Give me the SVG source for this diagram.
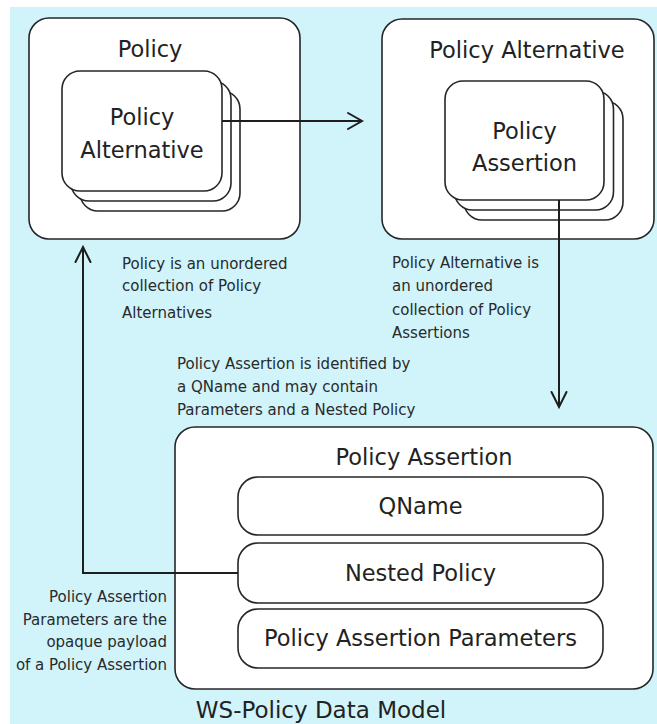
<svg xmlns="http://www.w3.org/2000/svg" width="657" height="724" viewBox="0 0 657 724">
  <defs>
    <style>
      .box { fill: #ffffff; stroke: #262626; stroke-width: 1.6; }
      .card { fill: #ffffff; stroke: #262626; stroke-width: 1.6; }
      .conn { fill: none; stroke: #1e1e1e; stroke-width: 2; }
      .head { fill: none; stroke: #1e1e1e; stroke-width: 2; stroke-linecap: round; stroke-linejoin: miter; }
      .title { font-family: "DejaVu Sans", Verdana, sans-serif; font-size: 22.5px; fill: #222; text-anchor: middle; }
      .note { font-family: "DejaVu Sans", Verdana, sans-serif; font-size: 15px; fill: #2a2a2a; }
    </style>
  </defs>

  <!-- page background -->
  <rect x="0" y="0" width="657" height="724" fill="#ffffff"/>
  <rect x="10" y="7" width="647" height="717" fill="#d0f4fa"/>

  <!-- Policy container with stacked alternatives -->
  <g id="policy">
    <rect class="box" x="29" y="18" width="271" height="221" rx="20"/>
    <text class="title" x="150" y="57">Policy</text>
    <rect class="card" x="80" y="91" width="160" height="120" rx="18"/>
    <rect class="card" x="71" y="81" width="160" height="120" rx="18"/>
    <rect class="card" x="62" y="71" width="160" height="120" rx="18"/>
    <text class="title" x="142" y="125">Policy</text>
    <text class="title" x="142" y="158">Alternative</text>
  </g>

  <!-- Policy Alternative container with stacked assertions -->
  <g id="policy-alternative">
    <rect class="box" x="382" y="19" width="272" height="220" rx="20"/>
    <text class="title" x="527" y="58">Policy Alternative</text>
    <rect class="card" x="464" y="101" width="159" height="119" rx="18"/>
    <rect class="card" x="454.5" y="91" width="159" height="119" rx="18"/>
    <rect class="card" x="445" y="81" width="159" height="119" rx="18"/>
    <text class="title" x="524.5" y="139">Policy</text>
    <text class="title" x="524.5" y="171">Assertion</text>
  </g>

  <!-- Policy Assertion container -->
  <g id="policy-assertion">
    <rect class="box" x="175" y="427" width="478" height="262" rx="20"/>
    <text class="title" x="424" y="465">Policy Assertion</text>
  </g>
  <g id="qname">
    <rect class="box" x="238" y="477" width="365" height="58" rx="20"/>
    <text class="title" x="420.5" y="514">QName</text>
  </g>
  <g id="nested-policy">
    <rect class="box" x="238" y="543" width="365" height="60" rx="20"/>
    <text class="title" x="420.5" y="581">Nested Policy</text>
  </g>
  <g id="assertion-parameters">
    <rect class="box" x="238" y="609" width="365" height="59" rx="20"/>
    <text class="title" x="420.5" y="646">Policy Assertion Parameters</text>
  </g>

  <!-- connectors -->
  <g id="connectors">
    <line class="conn" x1="222" y1="121" x2="362" y2="121"/>
    <polyline class="head" points="348,113 362,121 348,129"/>
    <line class="conn" x1="559" y1="200" x2="559" y2="407"/>
    <polyline class="head" points="551.5,392 559,407 566.5,392"/>
    <polyline class="conn" points="238,573 83,573 83,248"/>
    <polyline class="head" points="75.5,262 83,247 90.5,262"/>
  </g>

  <!-- annotations -->
  <g id="notes">
    <text class="note" x="122" y="269">Policy is an unordered</text>
    <text class="note" x="122" y="291">collection of Policy</text>
    <text class="note" x="122" y="318">Alternatives</text>

    <text class="note" x="392" y="268">Policy Alternative is</text>
    <text class="note" x="392" y="291">an unordered</text>
    <text class="note" x="392" y="315">collection of Policy</text>
    <text class="note" x="392" y="338">Assertions</text>

    <text class="note" x="177" y="369">Policy Assertion is identified by</text>
    <text class="note" x="177" y="392">a QName and may contain</text>
    <text class="note" x="177" y="415">Parameters and a Nested Policy</text>

    <g text-anchor="end">
      <text class="note" x="167" y="602">Policy Assertion</text>
      <text class="note" x="167" y="625">Parameters are the</text>
      <text class="note" x="167" y="647">opaque payload</text>
      <text class="note" x="167" y="670">of a Policy Assertion</text>
    </g>
  </g>

  <!-- caption -->
  <text class="title" x="321" y="718" style="font-size:23px">WS-Policy Data Model</text>
</svg>
